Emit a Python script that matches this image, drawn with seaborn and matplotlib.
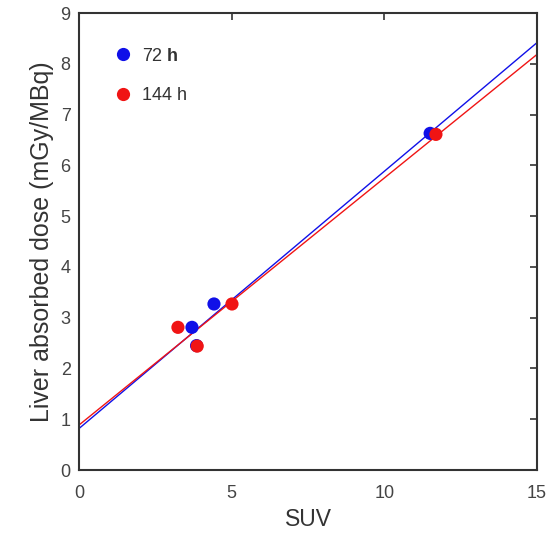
import numpy as np
import pandas as pd
import matplotlib
matplotlib.use("Agg")
import matplotlib.pyplot as plt
import seaborn as sns
from matplotlib.lines import Line2D

# data
suv_72h = [3.70, 3.85, 4.42, 11.50]
dose_72h = [2.81, 2.45, 3.27, 6.63]
suv_144h = [3.24, 3.87, 5.01, 11.69]
dose_144h = [2.81, 2.44, 3.27, 6.61]
x_ticks = [0, 5, 10, 15]
y_ticks = list(range(0, 10))

sns.set_style("white")
plt.rcParams['font.family'] = ['Liberation Sans', 'DejaVu Sans']
plt.rcParams['mathtext.fontset'] = 'custom'
plt.rcParams['mathtext.bf'] = 'Liberation Sans:bold'
plt.rcParams['mathtext.rm'] = 'Liberation Sans'

df72 = pd.DataFrame({"SUV": suv_72h, "dose": dose_72h})
df144 = pd.DataFrame({"SUV": suv_144h, "dose": dose_144h})

fig = plt.figure(figsize=(5.51, 5.36), dpi=100)
ax = fig.add_axes([0.1434, 0.1231, 0.8312, 0.8526])
ax.set_xlim(0, 15)
ax.set_ylim(0, 9)

blue = "#1010e8"
red = "#f01414"

sns.regplot(data=df72, x="SUV", y="dose", ax=ax, ci=None, truncate=False,
            scatter_kws=dict(s=90, color=blue, edgecolor="none", alpha=1, zorder=3),
            line_kws=dict(color=blue, lw=1.0, zorder=2))
sns.regplot(data=df144, x="SUV", y="dose", ax=ax, ci=None, truncate=False,
            scatter_kws=dict(s=90, color=red, edgecolor="none", alpha=1, zorder=4),
            line_kws=dict(color=red, lw=1.0, zorder=2))

ax.set_xlim(0, 15)
ax.set_ylim(0, 9)
ax.set_xticks(x_ticks)
ax.set_yticks(y_ticks)
ax.tick_params(direction="in", length=5, width=1.2, colors="#333333",
               labelsize=13, top=True, right=True, labelcolor="#444444")
ax.tick_params(axis="x", pad=11)
ax.tick_params(axis="y", pad=6)
for sp in ax.spines.values():
    sp.set_color("#333333")
    sp.set_linewidth(1.5)

ax.set_xlabel("SUV", fontsize=16.5, color="#333333", labelpad=4)
ax.set_ylabel("Liver absorbed dose (mGy/MBq)", fontsize=18, color="#333333", labelpad=5)

handles = [Line2D([], [], marker="o", ls="none", color=blue, markersize=9.5, markeredgewidth=0),
           Line2D([], [], marker="o", ls="none", color=red, markersize=9.5, markeredgewidth=0)]
ax.legend(handles, [r"72 $\mathbf{h}$", "144 h"], loc="upper left", frameon=False,
          fontsize=13, labelspacing=1.25, handletextpad=0.55, handlelength=1.0,
          bbox_to_anchor=(0.04, 0.96), labelcolor="#333333")

fig.savefig("out.png", dpi=100)
